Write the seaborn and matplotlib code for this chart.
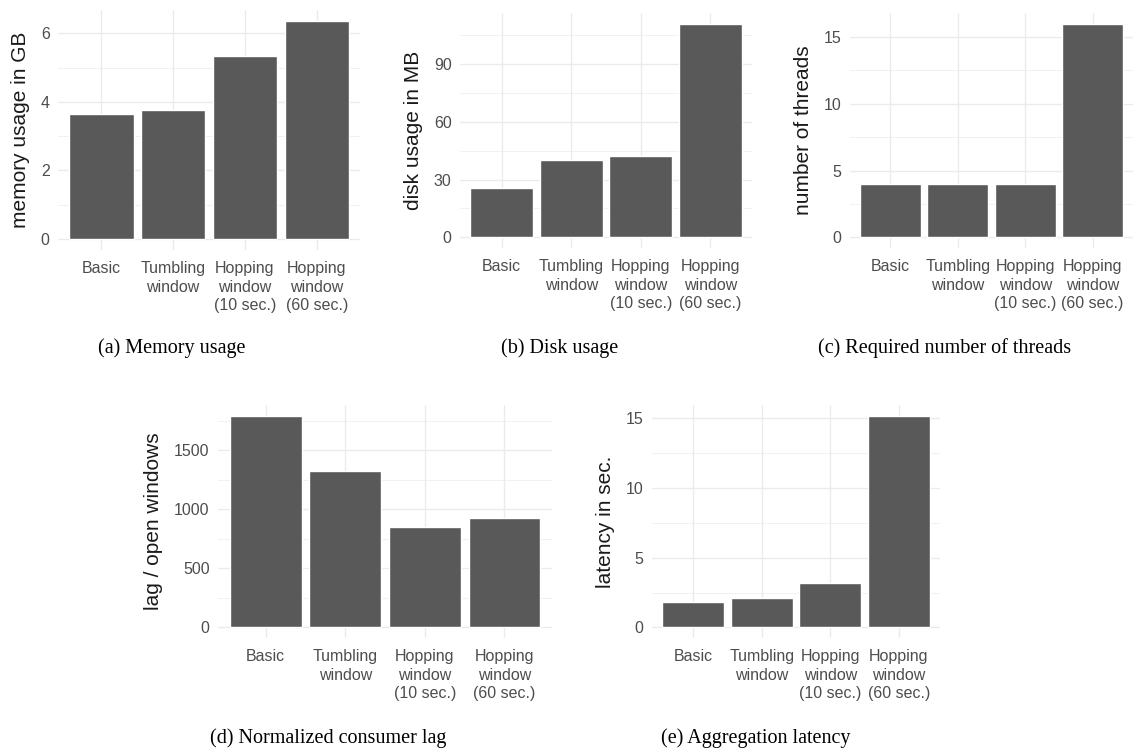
import pandas as pd
import seaborn as sns
import matplotlib.pyplot as plt
from matplotlib.ticker import MultipleLocator

# Categories (x axis of every panel)
approaches = ["Basic", "Tumbling\nwindow", "Hopping\nwindow\n(10 sec.)", "Hopping\nwindow\n(60 sec.)"]

# Values
memory_gb = [3.66, 3.75, 5.34, 6.36]
disk_mb = [25.9, 40.0, 42.3, 111.1]
threads = [4, 4, 4, 16]
lag_per_window = [1795, 1323, 851, 927]
latency_sec = [1.85, 2.14, 3.2, 15.17]

ylabels = ["memory usage in GB", "disk usage in MB", "number of threads",
           "lag / open windows", "latency in sec."]
captions = ["(a) Memory usage", "(b) Disk usage", "(c) Required number of threads",
            "(d) Normalized consumer lag", "(e) Aggregation latency"]
major_steps = [2, 30, 5, 500, 5]

sns.set_theme(style="white")
plt.rcParams['font.family'] = ['Liberation Sans', 'DejaVu Sans']

W, H = 1135, 750
fig = plt.figure(figsize=(W / 100, H / 100), dpi=100)

# panel boxes in pixels: left, top, right, bottom
boxes = [(58, 10, 360, 250), (460, 13, 752, 248), (850, 13, 1133, 248),
         (218, 405, 552, 638), (652, 405, 940, 638)]
caption_pos = [(172, 348), (560, 348), (945, 348), (328, 738), (756, 738)]

series = [memory_gb, disk_mb, threads, lag_per_window, latency_sec]

for vals, ylab, cap, step, (l, t, r, b), (cx, cy) in zip(series, ylabels, captions, major_steps, boxes, caption_pos):
    ax = fig.add_axes([l / W, 1 - b / H, (r - l) / W, (b - t) / H])
    df = pd.DataFrame({"approach": approaches, "value": vals})
    sns.barplot(data=df, x="approach", y="value", color="#595959", saturation=1,
                width=0.9, ax=ax, zorder=3)
    top = max(vals)
    ax.set_ylim(-0.05 * top, 1.05 * top)
    ax.set_xlim(-0.6, 3.6)
    ax.yaxis.set_major_locator(MultipleLocator(step))
    ax.yaxis.set_minor_locator(MultipleLocator(step / 2))
    ax.grid(which="major", axis="both", color="#EBEBEB", linewidth=1.0, zorder=0)
    ax.grid(which="minor", axis="y", color="#EBEBEB", linewidth=0.5, zorder=0)
    ax.set_axisbelow(True)
    for s in ax.spines.values():
        s.set_visible(False)
    ax.tick_params(which="both", length=0, labelsize=11.5, labelcolor="#4D4D4D", pad=6)
    ax.tick_params(axis="x", pad=8)
    ax.set_xlabel("")
    ax.set_ylabel(ylab, fontsize=15, color="#1A1A1A", labelpad=8)
    for lbl in ax.get_xticklabels():
        lbl.set_multialignment("center")
        lbl.set_linespacing(1.3)
    fig.text(cx / W, 1 - cy / H, cap, ha="center", va="center",
             family=["Liberation Serif", "DejaVu Serif"], fontsize=14.5, color="black")

plt.savefig("out.png", dpi=100, facecolor="white")
